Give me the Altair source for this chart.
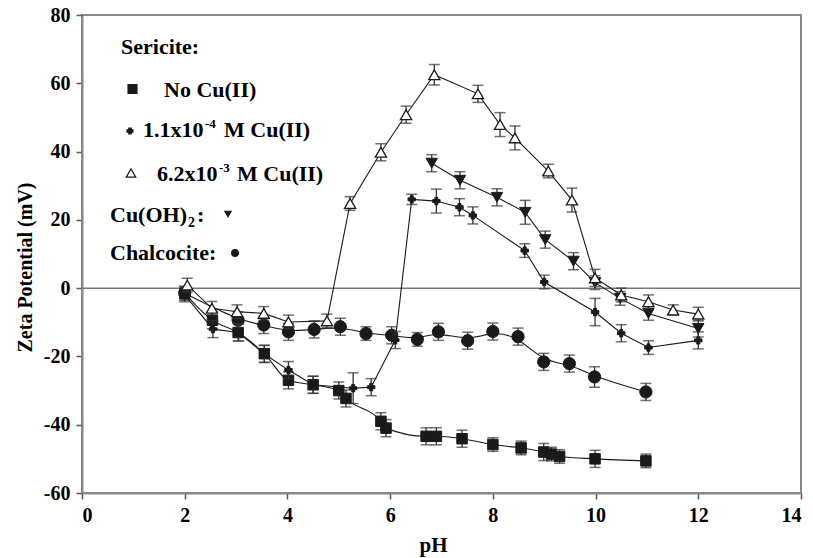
import altair as alt
import pandas as pd

# Zeta potential (mV) versus pH, with error estimates (mV)

# Sericite, no Cu(II)
sericite_ph = [2.0, 2.54, 3.04, 3.55, 4.02, 4.5, 5.0, 5.14, 5.82, 5.92, 6.7, 6.9,
               7.4, 8.0, 8.55, 8.99, 9.14, 9.3, 9.99, 10.98]
sericite_mv = [-1.5, -9.4, -13.0, -19.2, -27.0, -28.3, -30.0, -32.3, -39.0, -41.0, -43.4, -43.4,
               -44.1, -45.8, -46.8, -48.0, -48.6, -49.3, -50.0, -50.6]
sericite_err = [2.0, 2.5, 2.5, 2.5, 2.5, 2.5, 2.5, 2.5, 2.5, 2.5, 2.5, 2.5,
                2.5, 2.0, 2.0, 2.5, 2.0, 2.0, 2.5, 2.0]

# Sericite, 1.1x10^-4 M Cu(II)
cu_low_ph = [2.0, 2.55, 3.05, 3.55, 4.02, 4.5, 5.28, 5.63, 6.1, 6.42, 6.9, 7.35, 7.61,
             8.62, 9.0, 9.99, 10.5, 11.03, 12.0]
cu_low_mv = [-2.0, -12.0, -13.0, -19.3, -24.0, -28.3, -29.3, -29.0, -15.2, 26.0, 25.5, 23.7, 21.3,
             11.0, 1.8, -7.0, -13.2, -17.4, -15.3]
cu_low_err = [2.0, 2.5, 2.5, 2.5, 2.5, 2.5, 4.5, 2.5, 2.5, 1.5, 3.5, 2.5, 2.5,
              2.0, 2.0, 4.0, 2.5, 2.0, 2.5]

# Sericite, 6.2x10^-3 M Cu(II)
cu_high_ph = [2.05, 2.53, 3.02, 3.54, 4.02, 4.77, 5.22, 5.82, 6.31, 6.86, 7.71, 8.14, 8.43,
              9.08, 9.54, 9.99, 10.5, 11.03, 11.51, 12.0]
cu_high_mv = [0.9, -5.9, -6.9, -7.4, -9.9, -9.6, 24.8, 39.8, 50.8, 62.5, 56.9, 47.9, 44.0,
              34.3, 25.8, 3.0, -2.0, -4.0, -6.4, -7.6]
cu_high_err = [2.0, 2.0, 2.0, 2.0, 2.0, 2.0, 2.0, 2.5, 2.5, 3.0, 2.5, 3.5, 3.5,
               2.0, 3.5, 2.5, 2.0, 2.0, 1.5, 2.0]

# Cu(OH)2
cuoh2_ph = [6.81, 7.36, 8.08, 8.63, 9.02, 9.57, 9.99, 10.48, 11.03, 12.0]
cuoh2_mv = [36.6, 31.6, 26.6, 22.2, 14.2, 7.9, 1.6, -3.0, -7.4, -11.8]
cuoh2_err = [2.5, 2.5, 2.5, 3.5, 2.5, 2.5, 2.0, 2.0, 2.0, 2.5]

# Chalcocite
chalc_ph = [2.0, 3.04, 3.54, 4.02, 4.52, 5.03, 5.53, 6.03, 6.53, 6.94, 7.51, 8.0, 8.49,
            8.99, 9.49, 9.98, 10.98]
chalc_mv = [-1.5, -9.4, -10.8, -12.8, -12.1, -11.3, -13.3, -13.8, -15.0, -12.8, -15.4, -12.7, -14.2,
            -21.6, -22.1, -26.0, -30.4]
chalc_err = [2.0, 2.5, 2.5, 2.5, 2.5, 2.5, 2.0, 2.5, 2.0, 2.5, 2.5, 2.5, 2.5,
             2.5, 2.5, 3.0, 2.5]

x_ticks = [0, 2, 4, 6, 8, 10, 12, 14]
y_ticks = [-60, -40, -20, 0, 20, 40, 60, 80]

FONT = "Liberation Serif"
INK = "#1a1a1a"

x_axis = alt.Axis(
    title="pH", values=x_ticks, labelExpr="'' + datum.value",
    labelFont=FONT, labelFontSize=20, labelFontWeight="bold", labelColor="black",
    labelPadding=6, tickSize=6, tickColor="#555", tickWidth=1.5,
    domainColor="#888", domainWidth=2, grid=False,
    titleFont=FONT, titleFontSize=21, titleFontWeight="bold", titleColor="black",
    titleX=351, titleY=52, titleBaseline="middle",
)
y_axis = alt.Axis(
    title="Zeta Potential (mV)", values=y_ticks, labelExpr="'' + datum.value",
    labelFont=FONT, labelFontSize=20, labelFontWeight="bold", labelColor="black",
    labelPadding=6, tickSize=6, tickColor="#555", tickWidth=1.5,
    domainColor="#888", domainWidth=2, grid=False,
    titleFont=FONT, titleFontSize=20, titleFontWeight="bold", titleColor="black",
    titleX=-57, titleY=252, titleBaseline="middle", titleAngle=270,
)

x_scale = alt.Scale(domain=[0, 14], nice=False, zero=False)
y_scale = alt.Scale(domain=[-60, 80], nice=False, zero=False)


def X():
    return alt.X("ph:Q", scale=x_scale, axis=x_axis)


def Y(field):
    return alt.Y(f"{field}:Q", scale=y_scale, axis=y_axis)


def frame(ph, mv, err):
    df = pd.DataFrame({"ph": ph, "mv": mv, "err": err})
    df["lo"] = df["mv"] - df["err"]
    df["hi"] = df["mv"] + df["err"]
    return df


def series(df, shape, size, filled, interp):
    base = alt.Chart(df)
    line = base.mark_line(color=INK, strokeWidth=1.1, interpolate=interp).encode(x=X(), y=Y("mv"))
    bars = base.mark_rule(color="#333", strokeWidth=1.3).encode(x=X(), y=Y("lo"), y2="hi:Q")
    cap_lo = base.mark_tick(orient="horizontal", size=11, thickness=1.5, color="#333").encode(x=X(), y=Y("lo"))
    cap_hi = base.mark_tick(orient="horizontal", size=11, thickness=1.5, color="#333").encode(x=X(), y=Y("hi"))
    if filled:
        pts = base.mark_point(shape=shape, size=size, filled=True, fill=INK, stroke=INK,
                              strokeWidth=1, opacity=1).encode(x=X(), y=Y("mv"))
    else:
        pts = base.mark_point(shape=shape, size=size, filled=True, fill="white", stroke=INK,
                              strokeWidth=1.3, opacity=1).encode(x=X(), y=Y("mv"))
    return [line, bars, cap_lo, cap_hi, pts]


zero_line = alt.Chart(pd.DataFrame({"mv": [0]})).mark_rule(color="#777", strokeWidth=1.5).encode(y=Y("mv"))

layers = [zero_line]
layers += series(frame(chalc_ph, chalc_mv, chalc_err), "circle", 150, True, "basis")
layers += series(frame(sericite_ph, sericite_mv, sericite_err), "square", 110, True, "monotone")
layers += series(frame(cu_low_ph, cu_low_mv, cu_low_err), "cross", 55, True, "linear")
layers += series(frame(cuoh2_ph, cuoh2_mv, cuoh2_err), "triangle-down", 130, True, "linear")
layers += series(frame(cu_high_ph, cu_high_mv, cu_high_err), "triangle-up", 125, False, "linear")

# Key drawn inside the plot area (pixel offsets from the plot's top-left corner)
one = pd.DataFrame({"k": [0]})
OX, OY = 82, 15


def label(text, x, y, size=22, baseline="alphabetic"):
    return alt.Chart(one).mark_text(
        text=text, font=FONT, fontSize=size, fontWeight="bold", color="black",
        align="left", baseline=baseline,
    ).encode(x=alt.value(x - OX), y=alt.value(y - OY))


def symbol(shape, size, x, y, fill=INK):
    return alt.Chart(one).mark_point(
        shape=shape, size=size, filled=True, fill=fill, stroke=INK, strokeWidth=1.2, opacity=1,
    ).encode(x=alt.value(x - OX), y=alt.value(y - OY))


key = [
    label("Sericite:", 121, 54),
    symbol("square", 80, 132.5, 89),
    label("No Cu(II)", 164, 97),
    symbol("cross", 35, 130, 131),
    label("1.1x10", 143, 137),
    label("-4", 205, 128, size=13),
    label("M Cu(II)", 224, 137),
    symbol("triangle-up", 90, 131, 173, fill="white"),
    label("6.2x10", 157, 181),
    label("-3", 219, 172, size=13),
    label("M Cu(II)", 237, 181),
    label("Cu(OH)", 110, 222),
    label("2", 188, 227, size=14),
    label(":", 197, 222),
    symbol("triangle-down", 40, 228, 214),
    label("Chalcocite:", 110, 260),
    symbol("circle", 45, 235, 253),
]

chart = alt.layer(*layers, *key).properties(
    width=719, height=478,
    autosize=alt.AutoSizeParams(type="none"),
    padding={"left": 82, "top": 15, "right": 12, "bottom": 65},
    background="white",
).configure_view(
    stroke="#888", strokeWidth=2
).configure_axis(
    labelFont=FONT, titleFont=FONT
).configure_text(font=FONT)

chart.save("out.html", embed_options={"renderer": "svg", "actions": False})
